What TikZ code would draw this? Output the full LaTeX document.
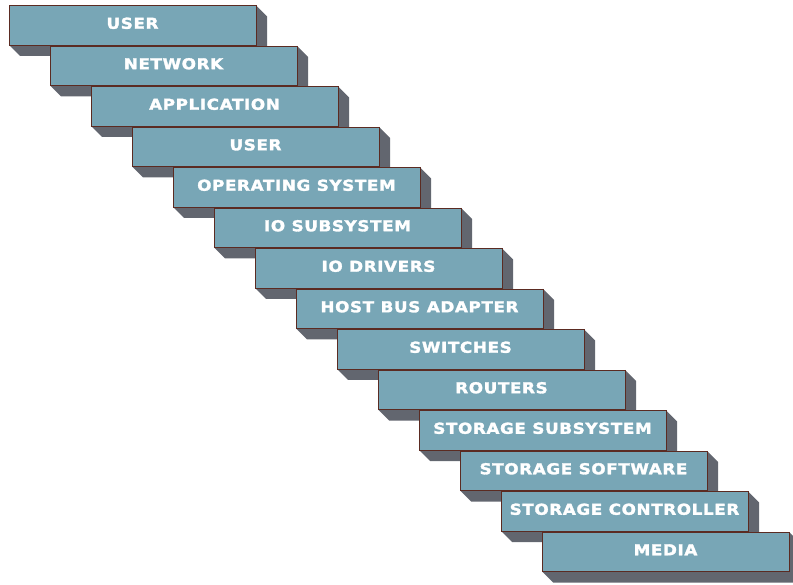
\documentclass[tikz,border=0pt]{standalone}
\usepackage{fontspec}
\newfontfamily\layerfont{DejaVu Sans}[LetterSpace=4,FakeStretch=1.12,FakeBold=2]
\definecolor{layerfill}{HTML}{78A6B6}
\definecolor{layershadow}{HTML}{62666F}
\definecolor{layerborder}{HTML}{5B2B22}
\tikzset{
  layer/.style={draw=layerborder, line width=0.8pt, fill=layerfill,
    minimum width=247pt, minimum height=39.5pt, inner sep=0pt,
    text=white, font=\layerfont\bfseries\fontsize{15}{15}\selectfont,
    text height=11pt, text depth=4pt},
  layershade/.style={fill=layershadow}
}
\begin{document}
\begin{tikzpicture}[x=1pt,y=-1pt]
\useasboundingbox (0,0) rectangle (793,585);
\foreach \lab [count=\i from 0] in {USER,NETWORK,APPLICATION,USER,OPERATING SYSTEM,IO SUBSYSTEM,IO DRIVERS,HOST BUS ADAPTER,SWITCHES,ROUTERS,STORAGE SUBSYSTEM,STORAGE SOFTWARE,STORAGE CONTROLLER,MEDIA} {
  \pgfmathsetmacro\xa{9+41*\i}
  \pgfmathsetmacro\ya{5.5+40.5*\i}
  \fill[layershade] (\xa+247,\ya) -- ++(11,11) -- ++(0,39.5) -- ++(-247,0) -- (\xa,\ya+39.5) -- cycle;
  \node[layer] (b\i) at (\xa+123.5,\ya+19.75) {\lab};
}
\end{tikzpicture}
\end{document}
